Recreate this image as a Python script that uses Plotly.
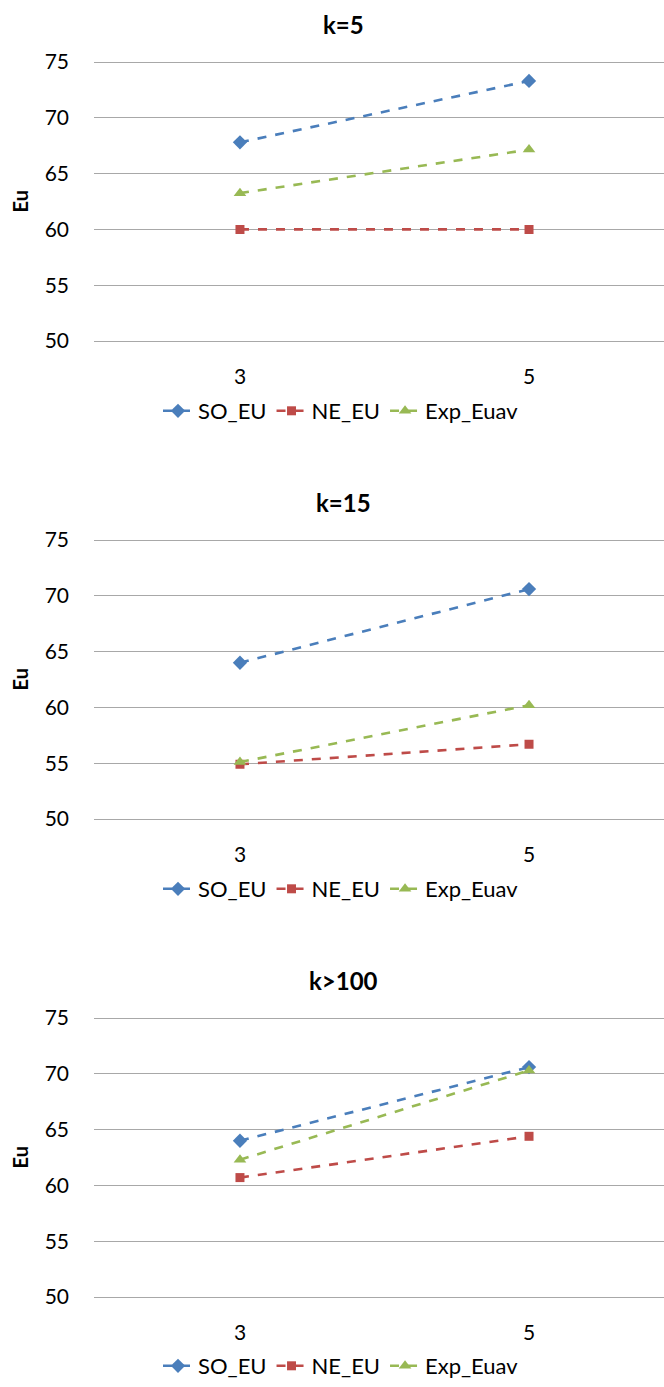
import plotly.graph_objects as go

# Category labels on the x axis
categories = ["3", "5"]

# Panel titles
panel_titles = ["k=5", "k=15", "k>100"]

# Series values for each panel
so_eu = [[67.8, 73.3], [64.0, 70.6], [64.0, 70.6]]
ne_eu = [[60.0, 60.0], [54.9, 56.7], [60.7, 64.4]]
exp_euav = [[63.25, 67.15], [55.1, 60.2], [62.3, 70.3]]

y_ticks = [50, 55, 60, 65, 70, 75]
y_min, y_max = 50, 75

W, H = 664, 1387
FONT = "Lato"

series = [
    ("SO_EU", so_eu, "#4A7EBB", "diamond", 11),
    ("NE_EU", ne_eu, "#BE4B48", "square", 9),
    ("Exp_Euav", exp_euav, "#98B954", "triangle-up", 11),
]

# Pixel layout of each panel's value area (top = y_max, bottom = y_min)
panel_px = [(62, 341), (540, 819), (1018, 1297)]
legend_px = [411, 889, 1366]
title_px = [25, 502, 980]
plot_left = 94
pad = 0.25  # small range padding so the end gridlines are drawn

fig = go.Figure()
xpos = list(range(len(categories)))

for i in range(3):
    ax = "" if i == 0 else str(i + 1)
    leg = "legend" if i == 0 else f"legend{i + 1}"
    for name, vals, color, sym, msize in series:
        fig.add_trace(go.Scatter(
            x=xpos, y=vals[i], name=name, mode="lines+markers",
            line=dict(color=color, width=2.6, dash="dash"),
            marker=dict(symbol=sym, size=msize, color=color),
            xaxis="x" + ax, yaxis="y" + ax, legend=leg,
        ))
    top, bot = panel_px[i]
    ppu = (bot - top) / (y_max - y_min)
    top_p, bot_p = top - pad * ppu, bot + pad * ppu
    fig.layout["xaxis" + ax] = dict(
        domain=[plot_left / W, 1.0], range=[-0.505, 1.467],
        tickvals=xpos, ticktext=categories, showgrid=False, zeroline=False,
        showline=False, ticks="", ticklabelstandoff=18,
        tickfont=dict(family=FONT, size=21, color="#000"),
        anchor="y" + ax, fixedrange=True, automargin=False,
    )
    fig.layout["yaxis" + ax] = dict(
        domain=[1 - bot_p / H, 1 - top_p / H],
        range=[y_min - pad, y_max + pad],
        tickvals=y_ticks, showgrid=True, gridcolor="#A8A8A8", gridwidth=1.3,
        zeroline=False, showline=False, ticks="", ticklabelstandoff=24,
        tickfont=dict(family=FONT, size=21, color="#000"),
        anchor="x" + ax, fixedrange=True, automargin=False,
    )
    fig.layout[leg] = dict(
        orientation="h", x=341 / W, xanchor="center",
        y=1 - legend_px[i] / H, yanchor="middle",
        font=dict(family=FONT, size=22, color="#000"),
        itemwidth=30, tracegroupgap=0, bgcolor="rgba(0,0,0,0)",
    )
    fig.add_annotation(
        text="<b>" + panel_titles[i] + "</b>", xref="paper", yref="paper",
        x=343 / W, y=1 - title_px[i] / H, xanchor="center", yanchor="middle",
        showarrow=False, font=dict(family=FONT, size=24, color="#000"),
    )
    fig.add_annotation(
        text="<b>Eu</b>", xref="paper", yref="paper", textangle=-90,
        x=19 / W, y=1 - ((top + bot) / 2) / H, xanchor="center", yanchor="middle",
        showarrow=False, font=dict(family=FONT, size=20, color="#000"),
    )

fig.update_layout(
    width=W, height=H,
    margin=dict(l=0, r=0, t=0, b=0, autoexpand=False),
    paper_bgcolor="white", plot_bgcolor="white", showlegend=True,
)

fig.write_html("out.html")
